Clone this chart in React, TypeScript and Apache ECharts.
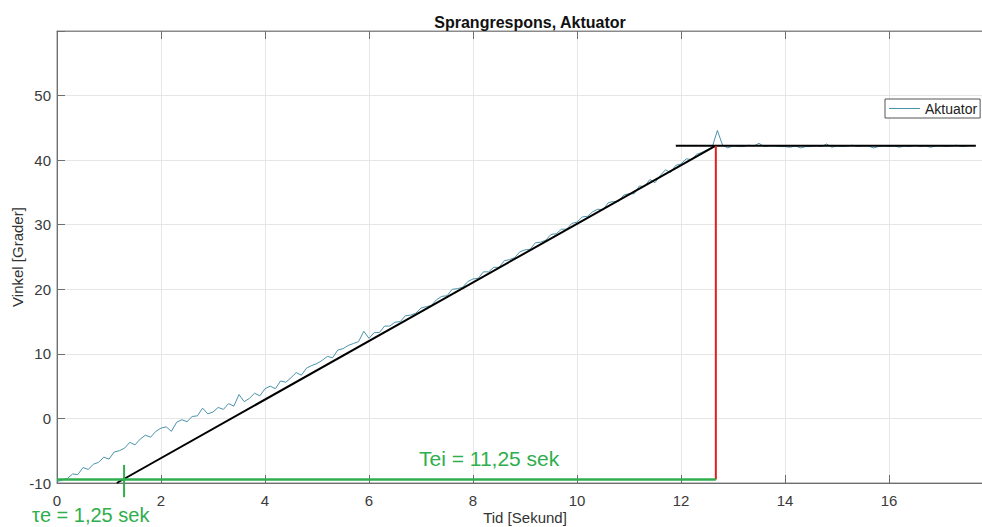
import React, { useEffect, useRef } from "react";
import * as echarts from "echarts";

// Sampling of the Aktuator signal
const T_START = 0;
const T_STEP = 0.1;

// Aktuator angle [degrees] at 0.1 s steps
const aktuatorValues = [
  -9.8, -9.5, -9.3, -8.6, -8.7, -7.6, -7.9, -7.1, -6.8, -6.0,
  -6.3, -5.2, -5.0, -4.6, -3.7, -4.1, -3.2, -2.6, -2.9, -2.0,
  -1.5, -1.3, -2.0, -0.6, -0.2, -0.5, 0.3, 0.4, 1.6, 0.7,
  1.0, 1.7, 1.4, 2.3, 1.9, 3.7, 2.6, 3.1, 3.9, 3.5,
  4.6, 5.0, 4.6, 5.8, 5.6, 6.3, 7.1, 6.7, 7.8, 8.2,
  8.5, 9.0, 9.6, 9.4, 10.6, 10.8, 11.3, 11.6, 11.9, 13.5,
  12.4, 13.3, 13.3, 14.3, 14.3, 14.9, 15.0, 15.9, 16.0, 16.3,
  17.1, 17.3, 17.5, 18.4, 18.9, 19.0, 20.0, 20.1, 20.3, 21.2,
  21.6, 21.7, 22.7, 22.7, 23.4, 23.4, 24.4, 24.6, 24.9, 25.8,
  26.1, 26.2, 27.2, 27.3, 27.6, 28.5, 28.6, 29.3, 29.3, 30.2,
  30.4, 31.2, 31.3, 32.0, 32.4, 32.3, 33.4, 33.6, 33.6, 34.6,
  34.8, 34.8, 36.0, 35.9, 37.0, 36.5, 37.6, 38.5, 38.1, 39.2,
  39.4, 40.2, 40.1, 40.9, 41.2, 41.6, 42.0, 44.6, 42.3, 41.9,
  42.2, 42.1, 42.1, 42.3, 42.2, 42.6, 42.1, 42.2, 42.2, 42.1,
  42.1, 42.0, 42.2, 41.9, 42.1, 42.1, 42.2, 42.1, 42.5, 42.0,
  42.2, 42.1, 42.2, 42.3, 42.1, 42.2, 42.2, 41.9, 42.1, 42.2,
  42.1, 42.2, 42.0, 42.2, 42.1, 42.3, 42.1, 42.2, 42.0, 42.2,
  42.2, 42.1, 42.2, 42.3, 42.1, 42.2,
];

// Construction lines (tangent method)
const tangentLine = [[1.15, -10], [12.67, 42.24]];
const finalValueLine = [[11.9, 42.24], [17.67, 42.24]];
const redLine = [[12.67, -9.45], [12.67, 42.24]];
const greenBase = [[0, -9.45], [12.67, -9.45]];
const greenTick = [[1.29, -7.2], [1.29, -12.2]];

// Axis setup
const xMin = 0, xMax = 18, xInterval = 2;
const yMin = -10, yMax = 60, yInterval = 10;

const titleText = "Sprangrespons, Aktuator";
const xName = "Tid [Sekund]";
const yName = "Vinkel [Grader]";
const seriesName = "Aktuator";
const teiText = "Tei = 11,25 sek";
const teText = "τe = 1,25 sek";

const FONT = "'Liberation Sans', Arial, sans-serif";

export default function App() {
  const ref = useRef<HTMLDivElement>(null);

  useEffect(() => {
    if (!ref.current) return;
    const chart = echarts.init(ref.current, undefined, { renderer: "svg" });
    const aktuatorData = aktuatorValues.map((v, i) => [
      +(T_START + i * T_STEP).toFixed(2),
      v,
    ]);
    const axisLineStyle = { color: "#6e6e6e", width: 1 };
    const green = "#2eae4c";
    const teal = "#4a93ab";

    chart.setOption({
      animation: false,
      backgroundColor: "#ffffff",
      textStyle: { fontFamily: FONT },
      title: {
        text: titleText,
        left: 525,
        top: 9,
        textAlign: "center",
        textStyle: { fontSize: 16, fontWeight: "bold", color: "#111", fontFamily: FONT },
      },
      legend: {
        data: [{ name: seriesName, icon: "rect" }],
        left: 885,
        top: 99,
        orient: "vertical",
        padding: [2, 3, 2, 4],
        itemWidth: 31,
        itemHeight: 1,
        itemGap: 0,
        borderColor: "#555",
        borderWidth: 1,
        backgroundColor: "#fff",
        itemStyle: { color: teal, borderWidth: 0 },
        textStyle: { fontSize: 14, color: "#222", fontFamily: FONT, lineHeight: 15 },
      },
      grid: {
        left: 57,
        top: 31,
        width: 936,
        height: 452,
        outerBoundsMode: "none",
        containLabel: false,
        show: true,
        borderColor: "#8a8a8a",
        borderWidth: 1,
        backgroundColor: "transparent",
      },
      xAxis: [
        {
          type: "value",
          min: xMin,
          max: xMax,
          interval: xInterval,
          position: "bottom",
          name: xName,
          nameLocation: "middle",
          nameGap: 27,
          nameMoveOverlap: false,
          nameTextStyle: { fontSize: 15, color: "#333", fontFamily: FONT },
          axisLine: { show: true, onZero: false, lineStyle: axisLineStyle },
          axisTick: { show: true, inside: true, length: 8, lineStyle: axisLineStyle },
          axisLabel: {
            fontSize: 15,
            color: "#3a3a3a",
            margin: 10,
            fontFamily: FONT,
            formatter: (v: number) => (v >= xMax ? "" : String(v)),
          },
          splitLine: { show: true, lineStyle: { color: "#e6e6e6", width: 1 } },
        },
        {
          type: "value",
          min: xMin,
          max: xMax,
          interval: xInterval,
          position: "top",
          axisLine: { show: true, onZero: false, lineStyle: { color: "#8a8a8a" } },
          axisTick: { show: true, inside: true, length: 8, lineStyle: axisLineStyle },
          axisLabel: { show: false },
          splitLine: { show: false },
        },
      ],
      yAxis: {
        type: "value",
        min: yMin,
        max: yMax,
        interval: yInterval,
        name: yName,
        nameLocation: "middle",
        nameGap: 32,
        nameMoveOverlap: false,
        nameRotate: 90,
        nameTextStyle: { fontSize: 15, color: "#333", fontFamily: FONT },
        axisLine: { show: true, onZero: false, lineStyle: axisLineStyle },
        axisTick: { show: true, inside: true, length: 8, lineStyle: axisLineStyle },
        axisLabel: {
          fontSize: 15,
          color: "#3a3a3a",
          margin: 6,
          fontFamily: FONT,
          formatter: (v: number) => (v >= yMax ? "" : String(v)),
        },
        splitLine: { show: true, lineStyle: { color: "#e6e6e6", width: 1 } },
      },
      series: [
        {
          name: seriesName,
          type: "line",
          data: aktuatorData,
          showSymbol: false,
          symbol: "none",
          lineStyle: { color: teal, width: 1 },
          itemStyle: { color: teal },
          z: 3,
        },
        {
          name: "tangent",
          type: "line",
          data: tangentLine,
          symbol: "none",
          lineStyle: { color: "#000", width: 2 },
          z: 4,
        },
        {
          name: "final",
          type: "line",
          data: finalValueLine,
          symbol: "none",
          lineStyle: { color: "#000", width: 2 },
          z: 4,
        },
        {
          name: "red",
          type: "line",
          data: redLine,
          symbol: "none",
          lineStyle: { color: "#e0211f", width: 2 },
          z: 5,
        },
        {
          name: "greenBase",
          type: "line",
          data: greenBase,
          symbol: "none",
          lineStyle: { color: green, width: 2.5 },
          z: 5,
        },
        {
          name: "greenTick",
          type: "line",
          data: greenTick,
          symbol: "none",
          clip: false,
          lineStyle: { color: green, width: 2 },
          z: 6,
        },
      ],
      graphic: [
        {
          type: "text",
          left: 419,
          top: 448,
          style: { text: teiText, fill: green, fontSize: 21, fontFamily: FONT },
          z: 10,
        },
        {
          type: "text",
          left: 32,
          top: 505,
          style: { text: teText, fill: green, fontSize: 20, fontFamily: FONT },
          z: 10,
        },
      ],
    });
    return () => chart.dispose();
  }, []);

  return (
    <div
      ref={ref}
      style={{ position: "fixed", left: 0, top: 0, width: 982, height: 527, background: "#fff" }}
    />
  );
}
